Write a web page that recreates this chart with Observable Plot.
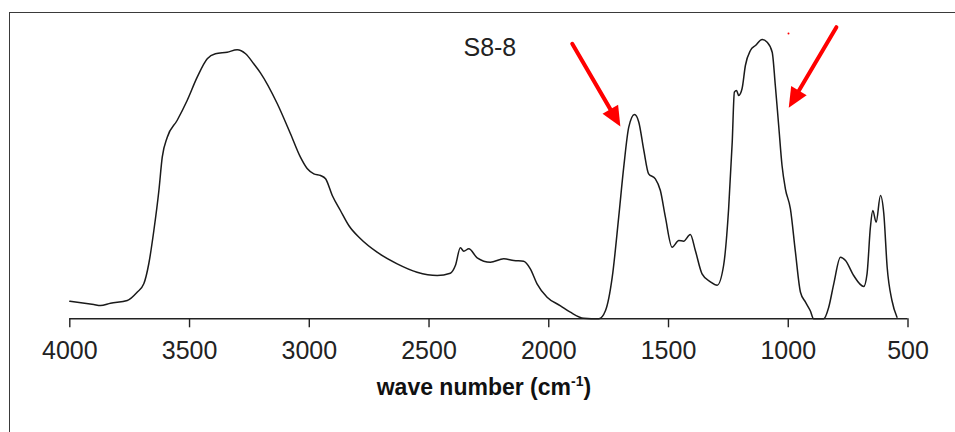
<!DOCTYPE html>
<html><head><meta charset="utf-8">
<script src="https://cdn.jsdelivr.net/npm/d3@7"></script>
<script src="https://cdn.jsdelivr.net/npm/@observablehq/plot@0.6"></script>
<style>
body{margin:0;background:#fff;}
#wrap{position:relative;width:955px;height:432px;overflow:hidden;}
#frame{position:absolute;left:9px;top:12px;right:-5px;bottom:-5px;border-left:1.6px solid #3a3a3a;border-top:1.6px solid #3a3a3a;pointer-events:none;}
</style></head><body>
<div id="wrap"><div id="chart"></div><div id="frame"></div></div>
<script>
// FTIR spectrum S8-8 (arbitrary absorbance units)
const waveNumber = [4000,3900,3872,3830,3760,3719,3691,3670,3649,3628,3614,3593,3552,3510,3468,3426,3392,3343,3301,3266,3232,3204,3134,3079,3037,3009,2981,2953,2932,2904,2870,2835,2786,2717,2633,2550,2466,2411,2390,2369,2355,2334,2299,2244,2188,2146,2105,2077,2049,2007,1951,1910,1854,1791,1763,1735,1708,1687,1666,1642,1624,1603,1583,1555,1534,1513,1485,1457,1437,1409,1388,1360,1325,1297,1270,1249,1234,1225,1216,1207,1193,1179,1158,1137,1109,1088,1067,1054,1040,1026,1012,991,970,949,928,908,894,852,831,810,782,761,727,685,671,657,647,633,615,601,587,567,546];
const absorbance = [17.6,14.3,13.3,15.6,18.3,26.6,35,55.3,88.3,128.3,161.6,181.6,198.3,218.3,241.6,260,265,266.6,269,265,255,246,215.3,185.3,161.6,150.3,145,143.3,140,123.3,108.3,93.3,80,66.6,55,46.6,43.3,45.6,53.3,71,67.6,70,61,56.6,60,58.3,57.6,50,35,21.6,13,6.6,0.6,0,8.3,41.6,101.6,151.6,191.6,204.3,196.6,168.3,145,140,128.3,101.6,71.6,78.3,77.6,84.3,68.3,45,37,33.6,53.3,110,176.6,226.6,228.3,223.3,230,253.3,268.3,273.3,279.3,276.6,266.6,233.3,193.3,153.3,130,110,66.6,26.6,16.6,8,0,0,11.6,35,61.6,58.3,43.3,32.3,45,91.6,108.3,96.6,123.3,105,51.6,18.3,1.6];
const xTicks = [4000,3500,3000,2500,2000,1500,1000,500];
const sampleLabel = ["S8-8"];
const sampleLabelWN = [2246];
const sampleLabelA = [270.8];
// red annotation arrows (start -> tip), in data units
const arrowStartWN = [1902, 799];
const arrowStartA = [275, 291.6];
const arrowEndWN = [1701, 998];
const arrowEndA = [192.3, 211];
const redDotWN = [999];
const redDotA = [285.3];
const labelMain = "wave number (cm";
const labelSup = "-1";
const labelEnd = ")";

const W = 955, H = 432, ML = 69.3, MR = 47.5, MT = 13, MB = 113.7;
const xDomain = [4000, 500], yDomain = [0, 305.3];
const pxPerX = (W - ML - MR) / (xDomain[0] - xDomain[1]);
const pxPerY = (H - MT - MB) / (yDomain[1] - yDomain[0]);

const spectrum = waveNumber.map((w, i) => ({w, a: absorbance[i]}));
const arrows = arrowStartWN.map((w, i) => {
  const dx = (w - arrowEndWN[i]) * pxPerX;          // screen dx (x reversed)
  const dy = (arrowStartA[i] - arrowEndA[i]) * pxPerY; // screen dy (down positive)
  return {x1: w, y1: arrowStartA[i], x2: arrowEndWN[i], y2: arrowEndA[i],
          rot: Math.atan2(dx, -dy) * 180 / Math.PI};
});
const labels = sampleLabel.map((t, i) => ({t, w: sampleLabelWN[i], a: sampleLabelA[i]}));
const dots = redDotWN.map((w, i) => ({w, a: redDotA[i]}));
const fullLabel = labelMain + labelSup + labelEnd;

// filled arrow head with its tip at the origin, pointing up
const headSymbol = {
  draw(context) {
    context.moveTo(0, 0);
    context.lineTo(-9, 20);
    context.lineTo(9, 20);
    context.closePath();
  }
};

const plot = Plot.plot({
  width: W, height: H,
  marginLeft: ML, marginRight: MR, marginTop: MT, marginBottom: MB,
  style: {fontFamily: "'Liberation Sans', Arial, sans-serif", background: "transparent", color: "#222"},
  x: {domain: xDomain},
  y: {domain: yDomain, axis: null},
  marks: [
    Plot.ruleY([0], {stroke: "#222", strokeWidth: 1.4}),
    Plot.axisX(xTicks, {tickSize: 9, tickPadding: 13, fontSize: 25, label: null, tickFormat: d3.format("d"), stroke: "#222", strokeWidth: 1.4, fill: "#222"}),
    Plot.line(spectrum, {x: "w", y: "a", curve: "monotone-x", stroke: "#1a1a1a", strokeWidth: 1.5}),
    Plot.text(labels, {x: "w", y: "a", text: "t", fontSize: 25, fill: "#222"}),
    Plot.arrow(arrows, {x1: "x1", y1: "y1", x2: "x2", y2: "y2", stroke: "#ff0000", strokeWidth: 4, headLength: 0, insetEnd: 12}),
    Plot.dot(arrows, {x: "x2", y: "y2", symbol: headSymbol, rotate: "rot", fill: "#ff0000", stroke: "none", r: 10}),
    Plot.dot(dots, {x: "w", y: "a", r: 1, fill: "#ff0000"}),
    Plot.text([fullLabel], {frameAnchor: "bottom", dy: 75.7, dx: -5, fontSize: 23, fontWeight: "bold", fill: "#111"})
  ]
});
document.getElementById("chart").appendChild(plot);

// render superscript in the axis label
d3.select(plot).selectAll("text").filter(function() { return this.textContent === fullLabel; }).each(function() {
  const t = d3.select(this);
  t.text(null);
  t.append("tspan").text(labelMain);
  t.append("tspan").attr("font-size", 14).attr("dy", -9).text(labelSup);
  t.append("tspan").attr("dy", 9).text(labelEnd);
});
</script>
</body></html>
